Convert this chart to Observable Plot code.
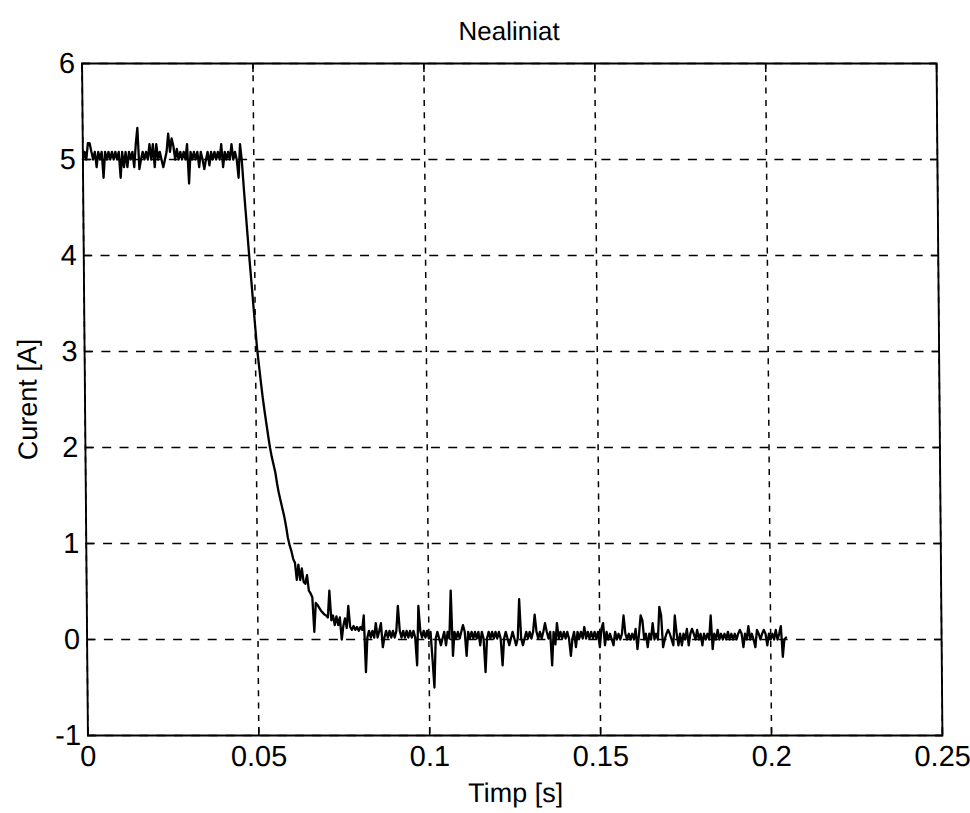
<!DOCTYPE html>
<html><head><meta charset="utf-8">
<script src="https://cdn.jsdelivr.net/npm/d3@7"></script>
<script src="https://cdn.jsdelivr.net/npm/@observablehq/plot@0.6"></script>
<style>
html,body{margin:0;padding:0;background:#fff;}
#chart svg{display:block;transform:skewX(0.5deg);transform-origin:512px 399px;}
</style></head><body><div id="chart"></div>
<script>
const title = "Nealiniat";
const xLabel = "Timp [s]";
const yLabel = "Curent [A]";
const xTicks = [0, 0.05, 0.1, 0.15, 0.2, 0.25];
const xTickLabels = ["0", "0.05", "0.1", "0.15", "0.2", "0.25"];
const yTicks = [-1, 0, 1, 2, 3, 4, 5, 6];
const yTickLabels = ["-1", "0", "1", "2", "3", "4", "5", "6"];
const sampleStart = 0;      // s
const sampleStep = 0.0005;  // s
// measured current [A], one value per sample
const current = [
  5.00,5.08,5.00,5.17,5.17,5.08,5.00,5.08,4.92,5.08,
  5.00,5.08,4.81,5.08,5.00,5.08,5.00,5.08,5.00,5.08,
  5.00,5.08,4.81,5.08,4.92,5.08,4.92,5.08,5.00,5.08,
  4.92,5.16,5.33,4.90,5.00,5.08,5.00,5.08,5.00,5.16,
  5.00,5.16,4.92,5.16,5.00,5.08,5.00,4.92,5.00,5.08,
  5.27,5.08,5.22,5.14,5.00,5.11,5.00,5.08,5.00,5.08,
  5.00,5.16,4.75,5.08,5.00,5.08,5.00,5.08,4.92,5.08,
  5.00,4.90,5.00,5.08,4.94,5.08,5.00,5.08,5.00,5.08,
  5.00,5.16,4.92,5.08,5.00,5.08,5.00,5.16,5.00,5.08,
  5.00,4.81,5.16,4.98,4.70,4.45,4.20,3.95,3.72,3.48,
  3.25,3.02,2.85,2.68,2.52,2.38,2.25,2.12,2.00,1.90,
  1.82,1.74,1.62,1.52,1.44,1.36,1.28,1.18,1.06,0.98,
  0.92,0.84,0.80,0.62,0.78,0.62,0.74,0.60,0.58,0.67,
  0.51,0.48,0.44,0.08,0.38,0.36,0.33,0.30,0.28,0.26,
  0.25,0.23,0.51,0.20,0.25,0.15,0.24,0.15,0.23,0.00,
  0.14,0.22,0.12,0.35,0.13,0.10,0.14,0.10,0.13,0.09,
  0.13,0.10,0.25,-0.34,0.02,0.09,0.02,0.09,0.02,0.17,
  0.02,0.09,0.17,-0.08,0.02,0.09,0.02,0.09,0.02,0.09,
  0.02,0.09,0.35,0.09,0.02,0.09,0.02,0.09,0.02,0.09,
  0.02,0.09,0.02,-0.27,0.35,0.09,0.02,0.09,0.02,0.09,
  0.01,0.08,-0.20,-0.50,0.01,0.08,0.01,-0.06,0.01,0.08,
  -0.06,0.08,0.01,0.51,-0.17,0.08,0.01,0.08,0.01,0.08,
  0.15,0.08,-0.17,0.08,0.01,0.08,0.01,0.08,0.01,0.08,
  -0.06,0.08,0.01,-0.34,0.01,0.08,0.01,0.08,0.01,0.08,
  0.01,0.08,0.01,-0.27,0.01,0.08,0.01,-0.06,0.01,0.08,
  0.01,-0.06,0.01,0.42,0.01,-0.06,0.01,0.08,0.01,0.08,
  0.01,0.08,0.26,0.08,0.01,0.08,0.01,0.08,0.17,0.08,
  0.01,0.08,-0.27,0.08,-0.05,0.17,0.01,0.08,0.01,0.08,
  0.01,0.08,0.01,-0.17,0.01,0.08,-0.08,0.08,0.01,0.08,
  0.01,0.13,0.01,0.08,0.01,0.08,0.01,0.08,0.01,0.08,
  -0.08,0.11,0.17,-0.06,0.08,0.00,0.06,0.00,-0.06,0.08,
  0.00,0.06,0.00,0.06,0.25,0.06,0.00,0.06,0.00,0.06,
  0.00,0.11,-0.10,0.06,0.25,0.20,0.00,0.06,-0.08,0.06,
  0.00,0.17,0.00,0.06,0.00,0.34,0.25,-0.08,0.00,0.06,
  0.10,0.06,0.00,-0.06,0.25,0.06,-0.06,0.06,-0.06,0.06,
  0.00,0.11,-0.06,0.06,0.11,0.06,0.00,0.10,0.00,0.06,
  -0.06,0.06,0.00,0.06,0.00,0.25,-0.10,0.06,0.00,0.10,
  0.00,0.06,0.00,0.06,0.00,0.08,0.00,0.06,0.00,0.06,
  0.00,0.06,0.10,0.06,-0.08,0.06,0.00,0.14,0.00,0.06,
  0.00,-0.08,0.10,0.06,0.00,0.06,0.10,0.06,-0.06,0.06,
  0.00,0.06,0.00,0.10,0.00,0.06,0.14,-0.18,0.00,0.02
];
const data = current.map((v, i) => ({t: sampleStart + i * sampleStep, v}));

const font = "'Liberation Sans', Arial, Helvetica, sans-serif";
const chart = Plot.plot({
  width: 970,
  height: 813,
  marginLeft: 84.5,
  marginRight: 31,
  marginTop: 63,
  marginBottom: 78,
  style: {fontFamily: font, fontSize: "29px", background: "#fff", color: "#000"},
  x: {domain: [0, 0.25], axis: null},
  y: {domain: [-1, 6], axis: null},
  marks: [
    Plot.ruleY(yTicks, {stroke: "#000", strokeWidth: 1.5, strokeDasharray: "9,8.3"}),
    Plot.ruleX(xTicks, {stroke: "#000", strokeWidth: 1.5, strokeDasharray: "6,6.3"}),
    Plot.line(data, {x: "t", y: "v", stroke: "#000", strokeWidth: 2.3}),
    Plot.frame({stroke: "#000", strokeWidth: 1.9}),
    Plot.axisX({anchor: "bottom", ticks: xTicks, tickSize: -8, tickFormat: () => "", label: null, strokeWidth: 1.5}),
    Plot.axisX({anchor: "top", ticks: xTicks, tickSize: -8, tickFormat: () => "", label: null, strokeWidth: 1.5}),
    Plot.axisY({anchor: "left", ticks: yTicks, tickSize: -8, tickFormat: () => "", label: null, strokeWidth: 1.5}),
    Plot.axisY({anchor: "right", ticks: yTicks, tickSize: -8, tickFormat: () => "", label: null, strokeWidth: 1.5}),
    Plot.axisX({anchor: "bottom", ticks: xTicks, tickSize: 0, tickPadding: 10, fontSize: 29, label: null,
      tickFormat: (d) => xTickLabels[xTicks.indexOf(d)], fill: "#000"}),
    Plot.axisY({anchor: "left", ticks: yTicks, tickSize: 0, tickPadding: 7, fontSize: 29, label: null,
      tickFormat: (d) => yTickLabels[yTicks.indexOf(d)], fill: "#000"}),
    Plot.text([title], {frameAnchor: "top", lineAnchor: "middle", dy: -32, fontSize: 26, fill: "#000"}),
    Plot.text([xLabel], {frameAnchor: "bottom", lineAnchor: "middle", dy: 58, fontSize: 27, fill: "#000"}),
    Plot.text([yLabel], {frameAnchor: "left", textAnchor: "middle", lineAnchor: "middle", dx: -57, rotate: -90, fontSize: 27, fill: "#000"})
  ]
});
document.getElementById("chart").appendChild(chart);
</script>
</body></html>
